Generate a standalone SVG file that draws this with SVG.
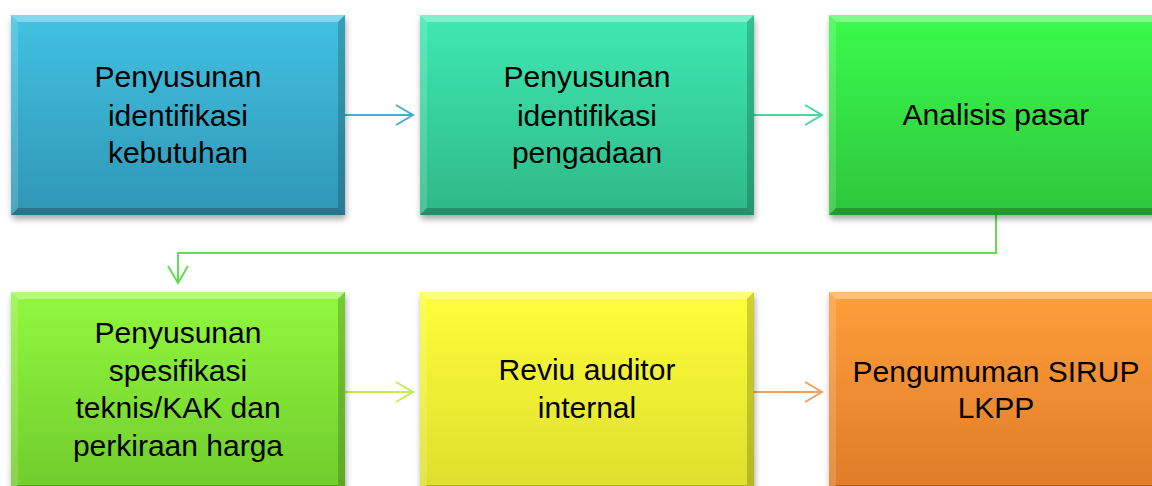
<svg xmlns="http://www.w3.org/2000/svg" width="1152" height="486" viewBox="0 0 1152 486">
<style>
.lbl{font-family:"Liberation Sans",Arial,sans-serif;font-size:30px;fill:#000;text-anchor:middle}
.hl{fill:#fff}
.dk{fill:#000}
.conn{fill:none;stroke-width:2}
</style>
<defs>
<filter id="sh" x="-10%" y="-10%" width="130%" height="130%">
<feGaussianBlur in="SourceAlpha" stdDeviation="3"/>
<feOffset dx="1" dy="4"/>
<feComponentTransfer><feFuncA type="linear" slope="0.35"/></feComponentTransfer>
<feMerge><feMergeNode/><feMergeNode in="SourceGraphic"/></feMerge>
</filter>
<linearGradient id="g1" x1="0" y1="0" x2="0" y2="1"><stop offset="0" stop-color="#42c2e2"/><stop offset="1" stop-color="#2f96b6"/></linearGradient>
<linearGradient id="g2" x1="0" y1="0" x2="0" y2="1"><stop offset="0" stop-color="#3eeab2"/><stop offset="1" stop-color="#2eb888"/></linearGradient>
<linearGradient id="g3" x1="0" y1="0" x2="0" y2="1"><stop offset="0" stop-color="#3afc4c"/><stop offset="1" stop-color="#2ec53c"/></linearGradient>
<linearGradient id="g4" x1="0" y1="0" x2="0" y2="1"><stop offset="0" stop-color="#92f83e"/><stop offset="1" stop-color="#70cc2c"/></linearGradient>
<linearGradient id="g5" x1="0" y1="0" x2="0" y2="1"><stop offset="0" stop-color="#fefe38"/><stop offset="1" stop-color="#dede2c"/></linearGradient>
<linearGradient id="g6" x1="0" y1="0" x2="0" y2="1"><stop offset="0" stop-color="#ff9e3a"/><stop offset="1" stop-color="#de7c28"/></linearGradient>
<g id="bevel">
<polygon class="hl" opacity="0.35" points="0,0 334,0 327,7 7,7"/>
<polygon class="hl" opacity="0.15" points="0,0 7,7 7,193 0,200"/>
<polygon class="dk" opacity="0.18" points="334,0 334,200 327,193 327,7"/>
<polygon class="dk" opacity="0.22" points="0,200 7,193 327,193 334,200"/>
</g>
</defs>
<rect width="1152" height="486" fill="#fff"/>
<g id="connectors">
<path class="conn" stroke="#4aaec8" d="M345,115 H412 M396,105 L413,115 L396,125"/>
<path class="conn" stroke="#4cd69e" d="M754,115 H821 M805,105 L822,115 L805,125"/>
<path class="conn" stroke="#5fe052" d="M996,215 V253 H178 V282 M168,266 L178,283 L188,266"/>
<path class="conn" stroke="#c6ea50" d="M345,392 H412 M396,382 L413,392 L396,402"/>
<path class="conn" stroke="#f2a060" d="M754,392 H821 M805,382 L822,392 L805,402"/>
</g>
<g id="n1" transform="translate(11,15)">
<rect width="334" height="200" fill="url(#g1)" filter="url(#sh)"/>
<use href="#bevel"/>
<text class="lbl" x="167"><tspan x="167" y="72">Penyusunan</tspan><tspan x="167" y="111">identifikasi</tspan><tspan x="167" y="148">kebutuhan</tspan></text>
</g>
<g id="n2" transform="translate(420,15)">
<rect width="334" height="200" fill="url(#g2)" filter="url(#sh)"/>
<use href="#bevel"/>
<text class="lbl" x="167"><tspan x="167" y="72">Penyusunan</tspan><tspan x="167" y="111">identifikasi</tspan><tspan x="167" y="148">pengadaan</tspan></text>
</g>
<g id="n3" transform="translate(829,15)">
<rect width="334" height="200" fill="url(#g3)" filter="url(#sh)"/>
<use href="#bevel"/>
<text class="lbl" x="167" y="110">Analisis pasar</text>
</g>
<g id="n4" transform="translate(11,292)">
<rect width="334" height="200" fill="url(#g4)" filter="url(#sh)"/>
<use href="#bevel"/>
<text class="lbl" x="167"><tspan x="167" y="51">Penyusunan</tspan><tspan x="167" y="89">spesifikasi</tspan><tspan x="167" y="126">teknis/KAK dan</tspan><tspan x="167" y="164">perkiraan harga</tspan></text>
</g>
<g id="n5" transform="translate(420,292)">
<rect width="334" height="200" fill="url(#g5)" filter="url(#sh)"/>
<use href="#bevel"/>
<text class="lbl" x="167"><tspan x="167" y="88">Reviu auditor</tspan><tspan x="167" y="126">internal</tspan></text>
</g>
<g id="n6" transform="translate(829,292)">
<rect width="334" height="200" fill="url(#g6)" filter="url(#sh)"/>
<use href="#bevel"/>
<text class="lbl" x="167"><tspan x="167" y="90">Pengumuman SIRUP</tspan><tspan x="167" y="126">LKPP</tspan></text>
</g>
</svg>
